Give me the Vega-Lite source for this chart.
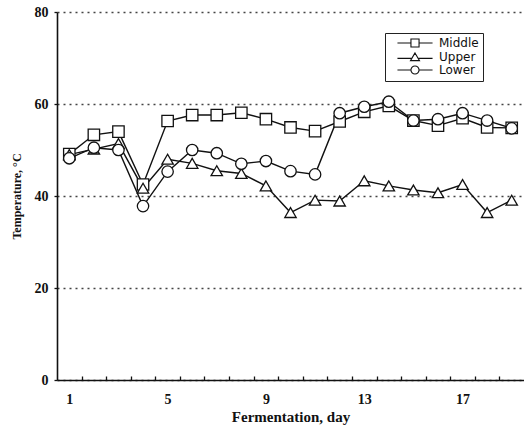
{
  "$schema": "https://vega.github.io/schema/vega-lite/v6.json",
  "width": 467,
  "height": 368,
  "autosize": "none",
  "padding": {"left": 57, "top": 12, "right": 0, "bottom": 46},
  "background": "white",
  "config": {
    "view": {"stroke": null},
    "axis": {"domainColor": "#111", "domainWidth": 1.6, "tickColor": "#111", "tickWidth": 1.3, "labelColor": "#111", "titleColor": "#111"}
  },
  "data": {
    "values": [
      {"day": 1, "series": "Middle", "temp": 49.1},
      {"day": 2, "series": "Middle", "temp": 53.3},
      {"day": 3, "series": "Middle", "temp": 54.0},
      {"day": 4, "series": "Middle", "temp": 42.5},
      {"day": 5, "series": "Middle", "temp": 56.3},
      {"day": 6, "series": "Middle", "temp": 57.6},
      {"day": 7, "series": "Middle", "temp": 57.6},
      {"day": 8, "series": "Middle", "temp": 58.1},
      {"day": 9, "series": "Middle", "temp": 56.7},
      {"day": 10, "series": "Middle", "temp": 54.9},
      {"day": 11, "series": "Middle", "temp": 54.1},
      {"day": 12, "series": "Middle", "temp": 56.2},
      {"day": 13, "series": "Middle", "temp": 58.3},
      {"day": 14, "series": "Middle", "temp": 59.6},
      {"day": 15, "series": "Middle", "temp": 56.4},
      {"day": 16, "series": "Middle", "temp": 55.3},
      {"day": 17, "series": "Middle", "temp": 56.9},
      {"day": 18, "series": "Middle", "temp": 54.9},
      {"day": 19, "series": "Middle", "temp": 54.8},
      {"day": 1, "series": "Upper", "temp": 49.0},
      {"day": 2, "series": "Upper", "temp": 50.2},
      {"day": 3, "series": "Upper", "temp": 51.4},
      {"day": 4, "series": "Upper", "temp": 41.7},
      {"day": 5, "series": "Upper", "temp": 48.0},
      {"day": 6, "series": "Upper", "temp": 47.1},
      {"day": 7, "series": "Upper", "temp": 45.5},
      {"day": 8, "series": "Upper", "temp": 44.9},
      {"day": 9, "series": "Upper", "temp": 42.2},
      {"day": 10, "series": "Upper", "temp": 36.4},
      {"day": 11, "series": "Upper", "temp": 39.1},
      {"day": 12, "series": "Upper", "temp": 38.9},
      {"day": 13, "series": "Upper", "temp": 43.3},
      {"day": 14, "series": "Upper", "temp": 42.2},
      {"day": 15, "series": "Upper", "temp": 41.3},
      {"day": 16, "series": "Upper", "temp": 40.7},
      {"day": 17, "series": "Upper", "temp": 42.5},
      {"day": 18, "series": "Upper", "temp": 36.4},
      {"day": 19, "series": "Upper", "temp": 39.1},
      {"day": 1, "series": "Lower", "temp": 48.2},
      {"day": 2, "series": "Lower", "temp": 50.5},
      {"day": 3, "series": "Lower", "temp": 50.0},
      {"day": 4, "series": "Lower", "temp": 37.8},
      {"day": 5, "series": "Lower", "temp": 45.3},
      {"day": 6, "series": "Lower", "temp": 50.0},
      {"day": 7, "series": "Lower", "temp": 49.3},
      {"day": 8, "series": "Lower", "temp": 47.0},
      {"day": 9, "series": "Lower", "temp": 47.6},
      {"day": 10, "series": "Lower", "temp": 45.4},
      {"day": 11, "series": "Lower", "temp": 44.7},
      {"day": 12, "series": "Lower", "temp": 58.0},
      {"day": 13, "series": "Lower", "temp": 59.4},
      {"day": 14, "series": "Lower", "temp": 60.5},
      {"day": 15, "series": "Lower", "temp": 56.4},
      {"day": 16, "series": "Lower", "temp": 56.7},
      {"day": 17, "series": "Lower", "temp": 58.0},
      {"day": 18, "series": "Lower", "temp": 56.4},
      {"day": 19, "series": "Lower", "temp": 54.7}
    ]
  },
  "resolve": {"axis": {"x": "independent"}, "scale": {"shape": "independent"}},
  "layer": [
    {
      "mark": {"type": "line", "color": "#111", "strokeWidth": 1.4},
      "encoding": {
        "x": {"field": "day", "type": "quantitative",
          "scale": {"domain": [0.5, 19.5], "nice": false, "zero": false},
          "axis": {"orient": "bottom", "values": [1.5, 2.5, 3.5, 4.5, 5.5, 6.5, 7.5, 8.5, 9.5, 10.5, 11.5, 12.5, 13.5, 14.5, 15.5, 16.5, 17.5, 18.5],
            "labels": false, "domain": false, "grid": false, "ticks": true, "tickSize": -4, "title": null}},
        "y": {"field": "temp", "type": "quantitative",
          "scale": {"domain": [0, 80], "nice": false, "zero": true},
          "axis": {"values": [0, 20, 40, 60, 80], "grid": true, "gridDash": [2, 4], "gridColor": "#444", "gridWidth": 1.5,
            "tickSize": 3, "labelPadding": 6, "labelFont": "Liberation Serif", "labelFontWeight": "bold", "labelFontSize": 14,
            "title": "Temperature, °C", "titleFont": "Liberation Serif", "titleFontWeight": "bold", "titleFontSize": 12, "titlePadding": 11}},
        "detail": {"field": "series"}
      }
    },
    {
      "mark": {"type": "point", "filled": false, "fill": "white", "fillOpacity": 1, "color": "#111", "stroke": "#111", "strokeWidth": 1.3, "size": 130, "opacity": 1},
      "encoding": {
        "x": {"field": "day", "type": "quantitative",
          "scale": {"domain": [0.5, 19.5], "nice": false, "zero": false},
          "axis": {"orient": "bottom", "values": [1, 5, 9, 13, 17], "ticks": false, "grid": false, "labelPadding": 12,
            "labelFont": "Liberation Serif", "labelFontWeight": "bold", "labelFontSize": 14,
            "title": "Fermentation, day", "titleFont": "Liberation Serif", "titleFontWeight": "bold", "titleFontSize": 15, "titlePadding": 3}},
        "y": {"field": "temp", "type": "quantitative"},
        "shape": {"field": "series", "type": "nominal",
          "scale": {"domain": ["Middle", "Upper", "Lower"], "range": ["square", "triangle-up", "circle"]},
          "legend": null
        }
      }
    },
    {
      "transform": [{"filter": "false"}],
      "mark": {"type": "point", "filled": false, "fill": "white", "fillOpacity": 1, "color": "#111", "stroke": "#111", "strokeWidth": 1.1, "size": 81, "opacity": 1},
      "encoding": {
        "shape": {"field": "series", "type": "nominal",
          "scale": {"domain": ["Middle", "Upper", "Lower"],
            "range": ["M-3.9,0H-0.9M0.9,0H3.9M-0.9,-0.9H0.9V0.9H-0.9Z", "M-3.9,0.3H-0.8M0.8,0.3H3.9M0,-0.9L1,0.8H-1Z", "M-3.9,0H-0.9M0.9,0H3.9M0.9,0A0.9,0.9,0,1,1,-0.9,0A0.9,0.9,0,1,1,0.9,0Z"]},
          "legend": {"orient": "none", "legendX": 328, "legendY": 21, "title": null, "strokeColor": "#222", "padding": 4, "rowPadding": 0, "columnPadding": 10,
            "labelFont": "DejaVu Sans", "labelFontSize": 12, "labelColor": "#111", "symbolSize": 81, "symbolOffset": 20, "labelOffset": 18,
            "symbolStrokeWidth": 1.1}
        }
      }
    }
  ]
}
